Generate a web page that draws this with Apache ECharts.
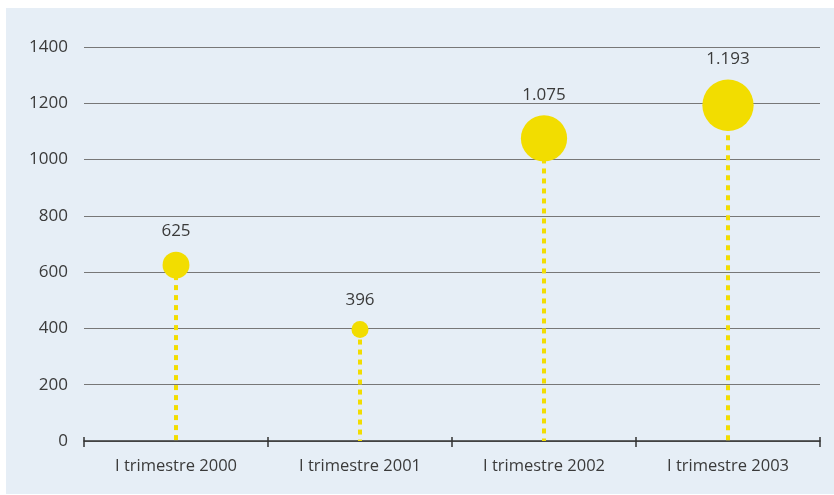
<!DOCTYPE html>
<html>
<head>
<meta charset="utf-8">
<script src="https://cdn.jsdelivr.net/npm/echarts@6/dist/echarts.min.js"></script>
<style>
  html, body { margin: 0; padding: 0; background: #ffffff; }
  #chart { width: 834px; height: 495px; }
</style>
</head>
<body>
<div id="chart"></div>
<script>
// Quarterly totals
const categories = ['I trimestre 2000', 'I trimestre 2001', 'I trimestre 2002', 'I trimestre 2003'];
const values = [625, 396, 1075, 1193];
const yTicks = [0, 200, 400, 600, 800, 1000, 1200, 1400];

const FONT = '"Open Sans", "Noto Sans", sans-serif';
const YELLOW = '#f2dd00';

// Italian-style thousands separator: 1075 -> "1.075"
function fmt(v) {
  return String(v).replace(/\B(?=(\d{3})+(?!\d))/g, '.');
}

const chart = echarts.init(document.getElementById('chart'));
chart.setOption({
  animation: false,
  backgroundColor: '#ffffff',
  graphic: [{
    type: 'rect',
    z: -10,
    silent: true,
    shape: { x: 6, y: 8, width: 828, height: 486 },
    style: { fill: '#e6eef6' }
  }],
  grid: { left: 84, right: 14, top: 47, bottom: 54 },
  xAxis: [
    {
      type: 'category',
      data: categories,
      boundaryGap: true,
      axisLine: { lineStyle: { color: '#333', width: 1.5 } },
      axisTick: { show: true, length: 6, lineStyle: { color: '#333', width: 1.5 } },
      axisLabel: { color: '#3a3a3a', fontFamily: FONT, fontSize: 16.5, margin: 17 }
    },
    {
      // upper half of the tick marks, so they cross the baseline
      type: 'category',
      data: categories,
      position: 'bottom',
      boundaryGap: true,
      axisLine: { show: false },
      axisTick: { show: true, inside: true, length: 4, lineStyle: { color: '#333', width: 1.5 } },
      axisLabel: { show: false }
    }
  ],
  yAxis: {
    type: 'value',
    min: yTicks[0],
    max: yTicks[yTicks.length - 1],
    interval: yTicks[1] - yTicks[0],
    axisLine: { show: false },
    axisTick: { show: false },
    splitLine: { lineStyle: { color: '#777777', width: 1.2 } },
    axisLabel: {
      color: '#3a3a3a', fontFamily: FONT, fontSize: 17, margin: 16,
      formatter: v => String(v)
    }
  },
  series: [
    {
      // dashed stems from the baseline up to each value
      type: 'custom',
      z: 2,
      data: values.map((v, i) => [i, v]),
      renderItem: function (params, api) {
        const top = api.coord([api.value(0), api.value(1)]);
        const base = api.coord([api.value(0), 0]);
        return {
          type: 'line',
          shape: { x1: top[0], y1: top[1], x2: base[0], y2: base[1] },
          style: { stroke: YELLOW, lineWidth: 4, lineDash: [5, 5] }
        };
      }
    },
    {
      type: 'scatter',
      z: 3,
      data: values,
      symbol: 'circle',
      symbolSize: v => v * 0.043,
      itemStyle: { color: YELLOW, opacity: 1 },
      label: {
        show: true,
        position: 'top',
        distance: 12,
        color: '#3a3a3a',
        fontFamily: FONT,
        fontSize: 17,
        formatter: p => fmt(p.value)
      }
    }
  ]
});
</script>
</body>
</html>
